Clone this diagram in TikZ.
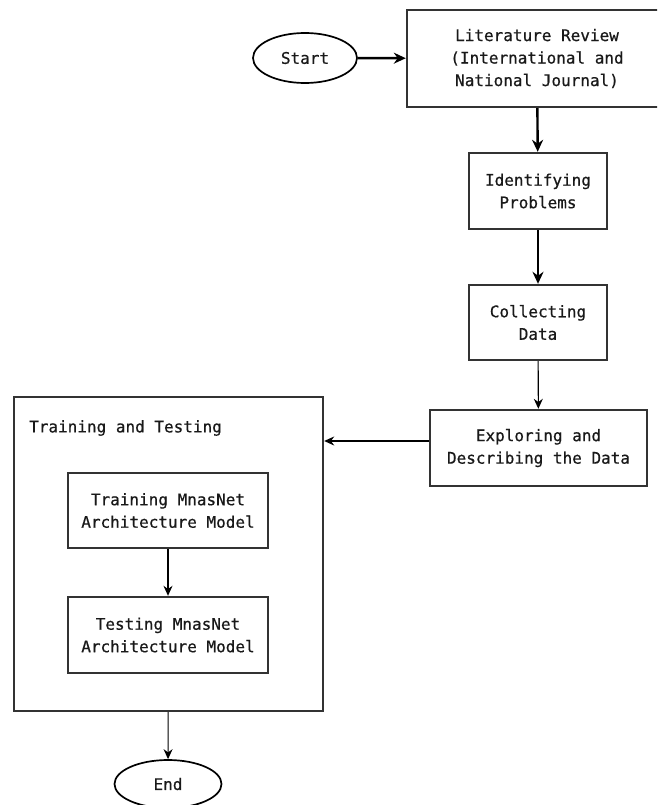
\documentclass[tikz,border=0pt]{standalone}
\usepackage{fontspec}
\setmonofont[FakeBold=0.6]{DejaVu Sans Mono}
\usetikzlibrary{shapes.geometric,arrows.meta}
\begin{document}
\begin{tikzpicture}[x=1pt,y=-1pt,
  every node/.style={font=\ttfamily\fontsize{16}{22.5}\selectfont, align=center, inner sep=0pt, text=black!90},
  boxnode/.style={draw=black!80, line width=2.4pt, rectangle},
  ovalnode/.style={draw=black, line width=1.7pt, ellipse},
  thickarrow/.style={line width=2.4pt, -{Stealth[length=12pt,width=11pt]}},
  thinarrow/.style={line width=1.1pt, -{Stealth[length=10pt,width=9pt]}}]
\useasboundingbox (0,0) rectangle (657,805);
\clip (0,0) rectangle (657,805);
\node[ovalnode, minimum width=104, minimum height=50] (start) at (305,58) {Start};
\node[boxnode, minimum width=260, minimum height=97] (lit) at (537,58.5) {Literature Review\\(International and\\National Journal)};
\node[boxnode, minimum width=138, minimum height=76] (ident) at (538,191) {Identifying\\Problems};
\node[boxnode, minimum width=138, minimum height=75] (coll) at (538,322.5) {Collecting\\Data};
\node[boxnode, minimum width=217, minimum height=76] (expl) at (538.5,448) {Exploring and\\Describing the Data};
\node[boxnode, minimum width=309, minimum height=314] (outer) at (168.5,554) {};
\node[anchor=west] (title) at (29,428) {Training and Testing};
\node[boxnode, minimum width=200, minimum height=75] (train) at (168,510.5) {Training MnasNet\\Architecture Model};
\node[boxnode, minimum width=200, minimum height=76] (test) at (168,635) {Testing MnasNet\\Architecture Model};
\node[ovalnode, minimum width=107, minimum height=48] (end) at (168,784) {End};
\draw[thickarrow] (start) -- (lit);
\draw[thickarrow] (lit) -- (ident);
\draw[thickarrow] (ident) -- (coll);
\draw[thinarrow] (coll) -- (expl);
\draw[thinarrow] ([yshift=7pt]expl.west) -- ([yshift=7pt]expl.west -| outer.east);
\draw[thinarrow] (train) -- (test);
\draw[thinarrow] (outer) -- (end);
\end{tikzpicture}
\end{document}
